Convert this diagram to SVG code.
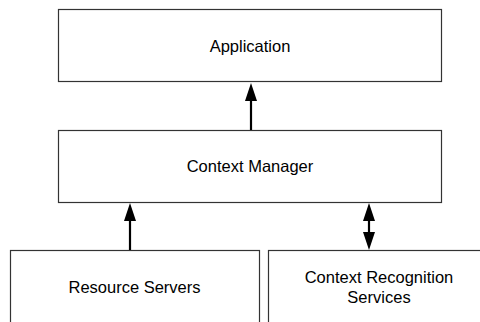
<svg xmlns="http://www.w3.org/2000/svg" width="480" height="322" viewBox="0 0 480 322">
<style>
.box{fill:#fff;stroke:#333;stroke-width:1.2}
.lbl{font-family:"Liberation Sans",Arial,sans-serif;font-size:16.5px;fill:#000;text-anchor:middle}
.conn{stroke:#000;stroke-width:2.2;fill:none}
</style>
<defs>
<marker id="ah" markerUnits="userSpaceOnUse" markerWidth="18" markerHeight="12" refX="0" refY="6" orient="auto-start-reverse" viewBox="0 0 18 12">
<path d="M0,0 L18,6 L0,12 z" fill="#000"/>
</marker>
</defs>
<rect width="480" height="322" fill="#fff"/>
<g id="application">
<rect class="box" x="58.5" y="9.5" width="383" height="72"/>
<text class="lbl" x="250" y="51.5">Application</text>
</g>
<g id="context-manager">
<rect class="box" x="58.5" y="130.5" width="383" height="72"/>
<text class="lbl" x="250" y="172">Context Manager</text>
</g>
<g id="resource-servers">
<rect class="box" x="10.5" y="250.5" width="249" height="80"/>
<text class="lbl" x="134.5" y="292.5">Resource Servers</text>
</g>
<g id="context-recognition">
<rect class="box" x="268.5" y="250.5" width="221" height="80"/>
<text class="lbl" x="379" y="283">Context Recognition</text>
<text class="lbl" x="379" y="303">Services</text>
</g>
<g id="connectors">
<path class="conn" d="M251,130 L251,101" marker-end="url(#ah)"/>
<path class="conn" d="M130,250 L130,221" marker-end="url(#ah)"/>
<path class="conn" d="M369,232 L369,221" marker-start="url(#ah)" marker-end="url(#ah)"/>
</g>
</svg>
